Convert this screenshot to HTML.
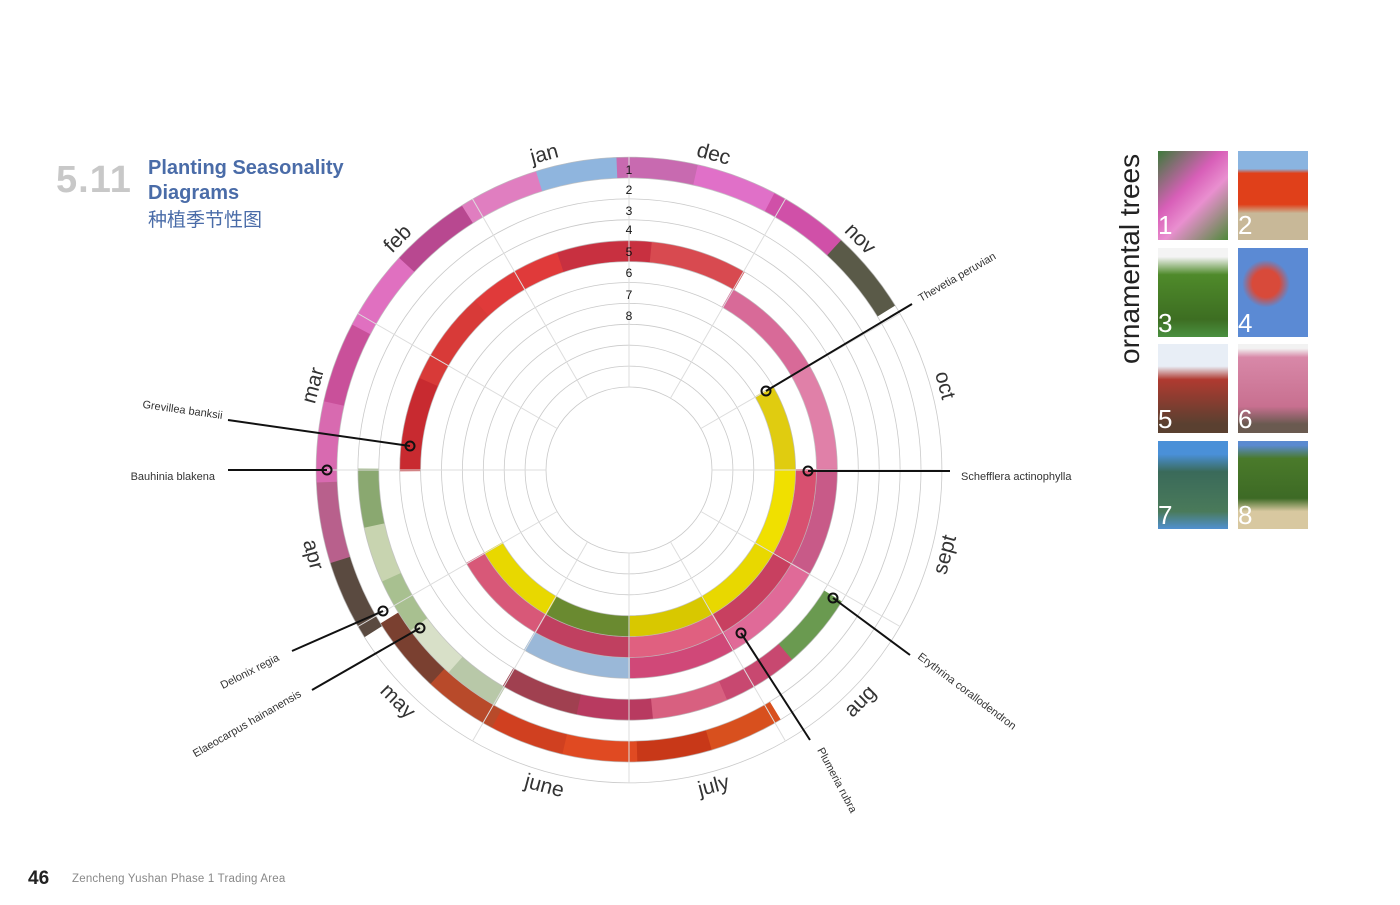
<!DOCTYPE html>
<html><head><meta charset="utf-8">
<style>
body{margin:0;background:#fff;width:1400px;height:905px;overflow:hidden;font-family:"Liberation Sans",sans-serif;}
.abs{position:absolute}
</style></head>
<body>
<div class="abs" style="left:56px;top:159px;font-size:38px;font-weight:bold;color:#c8c8c8;letter-spacing:1px">5.11</div>
<div class="abs" style="left:148px;top:156px;font-size:20px;font-weight:bold;color:#4a6ca8;line-height:25px">Planting Seasonality<br>Diagrams</div>
<div class="abs" style="left:148px;top:205px;font-size:19px;color:#4a6ca8;font-family:'Liberation Sans','Noto Sans CJK SC',sans-serif">种植季节性图</div>
<div class="abs" style="left:28px;top:868px;font-size:19px;font-weight:bold;color:#222">46</div>
<div class="abs" style="left:72px;top:873px;font-size:11.5px;color:#888;letter-spacing:0.2px">Zencheng Yushan Phase 1 Trading Area</div>
<div class="abs" style="left:1114px;top:364px;transform-origin:0 0;transform:rotate(-90deg);font-size:28px;color:#222;white-space:nowrap">ornamental trees</div>
<div class="abs" style="left:1158px;top:151px;width:70px;height:89px;background:linear-gradient(135deg,#3d7a3a,#d85fb8 40%,#e98fcf 60%,#4f8a3a)"></div>
<div class="abs" style="left:1238px;top:151px;width:70px;height:89px;background:linear-gradient(#8ab4e0 0 20%,#e0401a 25% 60%,#c8b898 70%)"></div>
<div class="abs" style="left:1158px;top:248px;width:70px;height:89px;background:linear-gradient(#f4f4f4 0 10%,#4f8a2a 30%,#3d6e22 80%,#4a9040)"></div>
<div class="abs" style="left:1238px;top:248px;width:70px;height:89px;background:radial-gradient(circle at 40% 40%,#d84a3a 0 20%,#5b8ad4 35%)"></div>
<div class="abs" style="left:1158px;top:344px;width:70px;height:89px;background:linear-gradient(#e8eef6 0 25%,#b03a30 40%,#5a4030 90%)"></div>
<div class="abs" style="left:1238px;top:344px;width:70px;height:89px;background:linear-gradient(#f2f2f2 0 5%,#d888a8 15%,#c87090 70%,#6a5a50 90%)"></div>
<div class="abs" style="left:1158px;top:441px;width:70px;height:88px;background:linear-gradient(#4a90d8 0 15%,#3a6a5a 35%,#4a7a5a 80%,#5090d0)"></div>
<div class="abs" style="left:1238px;top:441px;width:70px;height:88px;background:linear-gradient(#5a8ad0 0 5%,#4a7a2a 20%,#3d6a25 65%,#d8c8a0 80%)"></div>
<div class="abs" style="left:1158px;top:212px;font-size:26px;color:#fff;line-height:1">1</div>
<div class="abs" style="left:1238px;top:212px;font-size:26px;color:#fff;line-height:1">2</div>
<div class="abs" style="left:1158px;top:310px;font-size:26px;color:#fff;line-height:1">3</div>
<div class="abs" style="left:1238px;top:310px;font-size:26px;color:#fff;line-height:1">4</div>
<div class="abs" style="left:1158px;top:406px;font-size:26px;color:#fff;line-height:1">5</div>
<div class="abs" style="left:1238px;top:406px;font-size:26px;color:#fff;line-height:1">6</div>
<div class="abs" style="left:1158px;top:502px;font-size:26px;color:#fff;line-height:1">7</div>
<div class="abs" style="left:1238px;top:502px;font-size:26px;color:#fff;line-height:1">8</div>

<svg id="s" class="abs" style="left:0;top:0" width="1400" height="905" xmlns="http://www.w3.org/2000/svg"></svg>
<script>
var cx=629,cy=470,s=document.getElementById('s'),h='';
function P(r,a){a=a*Math.PI/180;return [cx+r*Math.sin(a),cy-r*Math.cos(a)];}
function sec(r1,r2,a1,a2,c){var p1=P(r2,a1),p2=P(r2,a2),p3=P(r1,a2),p4=P(r1,a1),l=(a2-a1)>180?1:0;
h+='<path d="M'+p1+' A'+r2+','+r2+' 0 '+l+' 1 '+p2+' L'+p3+' A'+r1+','+r1+' 0 '+l+' 0 '+p4+'Z" fill="'+c+'"/>';}
function band(k,a1,a2,cols){var ro=313-20.9*(k-1),ri=ro-20.9;var n=cols.length,st=(a2-a1)/n;for(var i=0;i<n;i++)sec(ri,ro,a1+i*st-0.3,a1+(i+1)*st+0.3,cols[i]);}
band(1,-122,58,['#5a4a40','#b8608c','#d86ab0','#c9509a','#e070c0','#b84890','#e07ec0','#8fb5de','#c86ab0','#e070c8','#d050a8','#5a5a48']);
band(2,149,238,['#d8501e','#c83818','#e04a22','#d04020','#b84a2a','#7a4030']);
band(3,210,270,['#b8c8a8','#d8e0c8','#a8c090','#c8d4b0','#8aa870']);
band(4,122,210,['#6a9a50','#c84870','#d86080','#b83a60','#a04050']);
band(5,-90,30,['#c82a30','#d83a38','#e03a3a','#c83040','#d84a50']);
band(6,30,210,['#d86a98','#e080a8','#c85a88','#e06a98','#d04878','#9ab8d8']);
band(7,90,240,['#d85070','#c84060','#e06080','#c04060','#d85878']);
band(8,60,240,['#e0cc10','#f0e000','#e8d800','#d8c800','#6a8a30','#e8d800']);
for(var r=83;r<=314;r+=20.9)h+='<circle cx="'+cx+'" cy="'+cy+'" r="'+r+'" fill="none" stroke="#bbb" stroke-width="0.8" opacity="0.8"/>';
for(var a=0;a<360;a+=30){var p=P(83,a),q=P(313,a);h+='<line x1="'+p[0]+'" y1="'+p[1]+'" x2="'+q[0]+'" y2="'+q[1]+'" stroke="#ddd" stroke-width="1"/>';}
var m=['jan','feb','mar','apr','may','june','july','aug','sept','oct','nov','dec'];
for(var i=0;i<12;i++){var a=-15-30*i;var an=((a%360)+360)%360;var rot=(an>90&&an<270)?a+180:a;var p=P(327,a);
h+='<text x="'+p[0]+'" y="'+p[1]+'" transform="rotate('+rot+' '+p[0]+' '+p[1]+')" text-anchor="middle" dominant-baseline="central" font-size="21" fill="#333">'+m[i]+'</text>';}
for(var k=1;k<=8;k++)h+='<text x="629" y="'+[174,194,215,234,256,277,299,320][k-1]+'" text-anchor="middle" font-size="12" fill="#111">'+k+'</text>';
function lead(x1,y1,x2,y2){h+='<line x1="'+x1+'" y1="'+y1+'" x2="'+x2+'" y2="'+y2+'" stroke="#111" stroke-width="2"/><circle cx="'+x1+'" cy="'+y1+'" r="4.5" fill="none" stroke="#111" stroke-width="2"/>';}
lead(766,391,912,304);lead(808,471,950,471);lead(833,598,910,655);lead(741,633,810,740);
lead(410,446,228,420);lead(327,470,228,470);lead(383,611,292,651);lead(420,628,312,690);
function lab(x,y,r,t,anc){h+='<text x="'+x+'" y="'+y+'" transform="rotate('+r+' '+x+' '+y+')" font-size="11" fill="#333" text-anchor="'+(anc||'start')+'">'+t+'</text>';}
lab(921,302,-30,'Thevetia peruvian');lab(961,480,0,'Schefflera actinophylla');lab(917,658,37,'Erythrina corallodendron');
lab(817,750,62,'Plumeria rubra');lab(222,419,8,'Grevillea banksii','end');lab(215,480,0,'Bauhinia blakena','end');
lab(280,660,-27,'Delonix regia','end');lab(302,696,-30,'Elaeocarpus hainanensis','end');
s.innerHTML=h;
</script>
</body></html>
